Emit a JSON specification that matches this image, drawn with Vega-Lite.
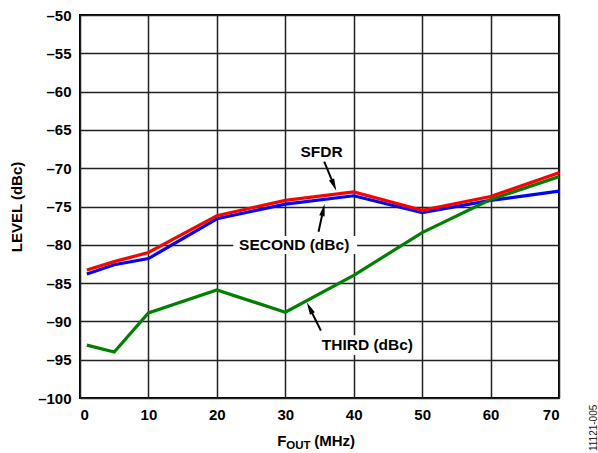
{
  "$schema": "https://vega.github.io/schema/vega-lite/v6.json",
  "width": 479,
  "height": 383,
  "autosize": {"type": "none"},
  "padding": {"left": 80, "top": 15, "right": 39, "bottom": 55},
  "background": "white",
  "data": {"values": [{}]},
  "config": {
    "view": {"stroke": "black", "strokeWidth": 2},
    "font": "Liberation Sans",
    "axis": {
      "grid": true,
      "gridColor": "#222222",
      "gridWidth": 1.5,
      "gridOpacity": 1,
      "domain": false,
      "ticks": false,
      "tickSize": 0,
      "labelOverlap": false,
      "labelFont": "Liberation Sans",
      "labelFontWeight": "bold",
      "labelFontSize": 15,
      "labelColor": "black",
      "titleFont": "Liberation Sans",
      "titleFontWeight": "bold",
      "titleFontSize": 15,
      "titleColor": "black",
      "labelExpr": "datum.value < 0 ? '–' + abs(datum.value) : '' + datum.value"
    },
    "axisX": {"tickCount": 7, "labelPadding": 9},
    "axisY": {"tickCount": 10, "labelPadding": 9, "titlePadding": 13}
  },
  "datasets": {
    "series": [
      {"f": 1, "series": "SECOND", "level": -83.8},
      {"f": 5, "series": "SECOND", "level": -82.6},
      {"f": 10, "series": "SECOND", "level": -81.8},
      {"f": 20, "series": "SECOND", "level": -76.6},
      {"f": 30, "series": "SECOND", "level": -74.7},
      {"f": 40, "series": "SECOND", "level": -73.6},
      {"f": 50, "series": "SECOND", "level": -75.8},
      {"f": 60, "series": "SECOND", "level": -74.2},
      {"f": 70, "series": "SECOND", "level": -73.0},
      {"f": 1, "series": "THIRD", "level": -93.1},
      {"f": 5, "series": "THIRD", "level": -94.0},
      {"f": 10, "series": "THIRD", "level": -88.9},
      {"f": 20, "series": "THIRD", "level": -85.9},
      {"f": 30, "series": "THIRD", "level": -88.8},
      {"f": 40, "series": "THIRD", "level": -84.0},
      {"f": 50, "series": "THIRD", "level": -78.4},
      {"f": 60, "series": "THIRD", "level": -74.1},
      {"f": 70, "series": "THIRD", "level": -71.1},
      {"f": 1, "series": "SFDR", "level": -83.3},
      {"f": 5, "series": "SFDR", "level": -82.2},
      {"f": 10, "series": "SFDR", "level": -81.0},
      {"f": 20, "series": "SFDR", "level": -76.2},
      {"f": 30, "series": "SFDR", "level": -74.2},
      {"f": 40, "series": "SFDR", "level": -73.1},
      {"f": 50, "series": "SFDR", "level": -75.5},
      {"f": 60, "series": "SFDR", "level": -73.7},
      {"f": 70, "series": "SFDR", "level": -70.6}
    ]
  },
  "layer": [
    {
      "data": {"name": "series"},
      "mark": {"type": "line", "strokeWidth": 3.2},
      "encoding": {
        "x": {
          "field": "f", "type": "quantitative",
          "scale": {"domain": [0, 70], "nice": false},
          "axis": {"title": null}
        },
        "y": {
          "field": "level", "type": "quantitative",
          "scale": {"domain": [-100, -50], "nice": false, "zero": false},
          "axis": {"title": "LEVEL (dBc)"}
        },
        "color": {
          "field": "series", "type": "nominal",
          "scale": {"domain": ["SECOND", "THIRD", "SFDR"], "range": ["#0000FF", "#008000", "#FF0000"]},
          "legend": null
        },
        "order": {"field": "f"}
      }
    },
    {
      "mark": {"type": "rect", "fill": "white"},
      "encoding": {"x": {"datum": 22.4}, "x2": {"datum": 40.5}, "y": {"datum": -78.85}, "y2": {"datum": -81.2}}
    },
    {
      "mark": {"type": "rect", "fill": "white"},
      "encoding": {"x": {"datum": 34.8}, "x2": {"datum": 49.1}, "y": {"datum": -91.8}, "y2": {"datum": -94.4}}
    },
    {
      "mark": {"type": "text", "font": "Liberation Sans", "fontWeight": "bold", "fontSize": 15.5, "baseline": "middle", "align": "center"},
      "encoding": {"x": {"datum": 35.3}, "y": {"datum": -67.85}, "text": {"value": "SFDR"}}
    },
    {
      "mark": {"type": "text", "font": "Liberation Sans", "fontWeight": "bold", "fontSize": 15.5, "baseline": "middle", "align": "center"},
      "encoding": {"x": {"datum": 31.3}, "y": {"datum": -80.0}, "text": {"value": "SECOND (dBc)"}}
    },
    {
      "mark": {"type": "text", "font": "Liberation Sans", "fontWeight": "bold", "fontSize": 15.5, "baseline": "middle", "align": "center"},
      "encoding": {"x": {"datum": 42.0}, "y": {"datum": -93.1}, "text": {"value": "THIRD (dBc)"}}
    },
    {
      "mark": {"type": "rule", "color": "black", "strokeWidth": 2},
      "encoding": {"x": {"datum": 35.69}, "y": {"datum": -69.15}, "x2": {"datum": 37.11}, "y2": {"datum": -72.22}}
    },
    {
      "mark": {"type": "point", "shape": "M0,-1L0.45,1L-0.45,1Z", "filled": true, "color": "black", "opacity": 1, "size": 150, "angle": 157.5},
      "encoding": {"x": {"datum": 37.11}, "y": {"datum": -72.22}}
    },
    {
      "mark": {"type": "rule", "color": "black", "strokeWidth": 2},
      "encoding": {"x": {"datum": 34.86}, "y": {"datum": -78.29}, "x2": {"datum": 35.55}, "y2": {"datum": -75.44}}
    },
    {
      "mark": {"type": "point", "shape": "M0,-1L0.45,1L-0.45,1Z", "filled": true, "color": "black", "opacity": 1, "size": 150, "angle": 12.2},
      "encoding": {"x": {"datum": 35.55}, "y": {"datum": -75.44}}
    },
    {
      "mark": {"type": "rule", "color": "black", "strokeWidth": 2},
      "encoding": {"x": {"datum": 35.21}, "y": {"datum": -91.21}, "x2": {"datum": 33.56}, "y2": {"datum": -88.26}}
    },
    {
      "mark": {"type": "point", "shape": "M0,-1L0.45,1L-0.45,1Z", "filled": true, "color": "black", "opacity": 1, "size": 150, "angle": 333.4},
      "encoding": {"x": {"datum": 33.56}, "y": {"datum": -88.26}}
    },
    {
      "mark": {"type": "text", "font": "Liberation Sans", "fontWeight": "bold", "fontSize": 15, "baseline": "alphabetic", "align": "left"},
      "encoding": {"x": {"datum": 28.83}, "y": {"datum": -106.27}, "text": {"value": "F"}}
    },
    {
      "mark": {"type": "text", "font": "Liberation Sans", "fontWeight": "bold", "fontSize": 11.5, "baseline": "alphabetic", "align": "left", "dx": 9, "dy": 3},
      "encoding": {"x": {"datum": 28.83}, "y": {"datum": -106.27}, "text": {"value": "OUT"}}
    },
    {
      "mark": {"type": "text", "font": "Liberation Sans", "fontWeight": "bold", "fontSize": 15, "baseline": "alphabetic", "align": "left", "dx": 37},
      "encoding": {"x": {"datum": 28.83}, "y": {"datum": -106.27}, "text": {"value": "(MHz)"}}
    },
    {
      "mark": {"type": "text", "font": "Liberation Sans", "fontSize": 10, "color": "#222222", "baseline": "middle", "align": "center", "angle": 270},
      "encoding": {"x": {"datum": 75.1}, "y": {"datum": -103.9}, "text": {"value": "11121-005"}}
    }
  ]
}
